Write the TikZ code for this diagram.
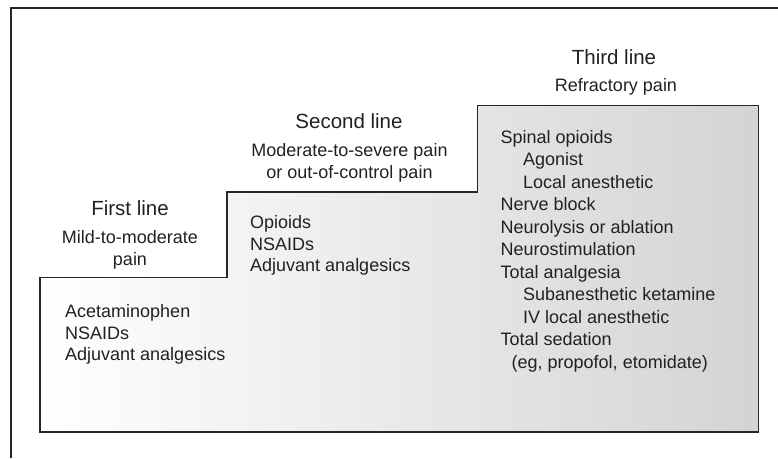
\documentclass[tikz,border=0pt]{standalone}
\usepackage{fontspec}
\setmainfont{Liberation Sans}
\usetikzlibrary{positioning}

\begin{document}
\begin{tikzpicture}[x=1pt, y=-1pt,
    title/.style={anchor=base, inner sep=0pt, font=\fontsize{20.5}{24}\selectfont, text=black!87},
    sub/.style={anchor=base, inner sep=0pt, font=\fontsize{18}{22}\selectfont, text=black!87},
    item/.style={anchor=base west, inner sep=0pt, font=\fontsize{18}{22}\selectfont, text=black!87}]
    \useasboundingbox (0,0) rectangle (778,458);

    % frame, only top and left edge
    \draw[line width=2pt, black!85] (778,8) -- (10.5,8) -- (10.5,458);

    % the three steps
    \fill[draw=black!85, line width=1.5pt, left color=white, right color=black!17]
        (40,432) -- (40,277.5) -- (227,277.5) -- (227,192) -- (477.5,192)
        -- (477.5,105.5) -- (758.5,105.5) -- (758.5,432) -- cycle;

    % headings
    \node[title] (first) at (130,215.5) {First line};
    \node[sub] (firstsub1) at (130,243) {Mild-to-moderate};
    \node[sub] (firstsub2) at (130,265) {pain};

    \node[title] (second) at (349,128) {Second line};
    \node[sub] (secondsub1) at (349.5,156) {Moderate-to-severe pain};
    \node[sub] (secondsub2) at (349.5,178) {or out-of-control pain};

    \node[title] (third) at (614,64) {Third line};
    \node[sub] (thirdsub) at (616,91) {Refractory pain};

    % lists
    \foreach \txt [count=\i] in {Acetaminophen, NSAIDs, Adjuvant analgesics}
        \node[item] (a\i) at (65,317.5+21.7*\i-21.7) {\txt};
    \foreach \txt [count=\i] in {Opioids, NSAIDs, Adjuvant analgesics}
        \node[item] (b\i) at (250,228.5+21.7*\i-21.7) {\txt};
    \foreach \dx/\txt [count=\i] in {0/Spinal opioids, 22.5/Agonist, 22.5/Local anesthetic,
        0/Nerve block, 0/Neurolysis or ablation, 0/Neurostimulation, 0/Total analgesia,
        22.5/Subanesthetic ketamine, 22.5/IV local anesthetic, 0/Total sedation,
        11/{(eg, propofol, etomidate)}}
        \node[item] (c\i) at (500.5+\dx,143+22.5*\i-22.5) {\txt};
\end{tikzpicture}
\end{document}
